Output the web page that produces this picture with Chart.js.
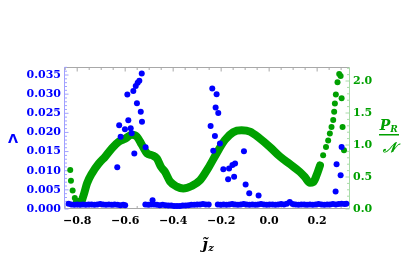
<!DOCTYPE html>
<html>
<head>
<meta charset="utf-8">
<script src="https://cdn.jsdelivr.net/npm/chart.js@4"></script>
<style>
  html, body { margin: 0; padding: 0; background: #fff; }
</style>
</head>
<body>
<canvas id="grafica" width="415" height="275"></canvas>
<script>
// tick labels
const xTicks = [-0.8, -0.6, -0.4, -0.2, 0.0, 0.2];
const lambdaTicks = [0, 0.005, 0.010, 0.015, 0.020, 0.025, 0.030, 0.035];
const prTicks = [0, 0.5, 1.0, 1.5, 2.0];

// Lambda (blue) - baseline near zero
const lambdaBaseX = [
  -0.836, -0.824, -0.812, -0.800, -0.788, -0.776, -0.764, -0.752, -0.740, -0.728, -0.716,
  -0.704, -0.692, -0.680, -0.668, -0.656, -0.644, -0.632, -0.620, -0.608, -0.600,
  -0.516, -0.504, -0.492, -0.480, -0.468, -0.456, -0.444, -0.432, -0.420, -0.408, -0.396,
  -0.384, -0.372, -0.360, -0.348, -0.336, -0.324, -0.312, -0.300, -0.288, -0.276, -0.264, -0.252,
  -0.214, -0.202, -0.190, -0.178, -0.166, -0.154, -0.142, -0.130, -0.118, -0.106, -0.094,
  -0.082, -0.070, -0.058, -0.046, -0.034, -0.022, -0.010, 0.002, 0.014, 0.026, 0.038,
  0.050, 0.062, 0.074, 0.086, 0.098, 0.110, 0.122, 0.134, 0.146, 0.158, 0.170, 0.182,
  0.194, 0.206, 0.218, 0.230, 0.242, 0.254, 0.266, 0.278, 0.290, 0.302, 0.314, 0.322
];
const lambdaBaseY = [
  0.0014, 0.0012, 0.0011, 0.0012, 0.0011, 0.0012, 0.0011, 0.0012, 0.0012, 0.0011, 0.0012,
  0.0013, 0.0012, 0.0011, 0.0012, 0.0011, 0.0012, 0.0011, 0.0010, 0.0011, 0.0010,
  0.0012, 0.0011, 0.0012, 0.0012, 0.0011, 0.0010, 0.0011, 0.0010, 0.0009, 0.0009, 0.0008,
  0.0008, 0.0008, 0.0009, 0.0009, 0.0010, 0.0011, 0.0011, 0.0012, 0.0012, 0.0013, 0.0012, 0.0012,
  0.0012, 0.0011, 0.0012, 0.0011, 0.0012, 0.0013, 0.0012, 0.0011, 0.0012, 0.0013, 0.0012,
  0.0011, 0.0012, 0.0011, 0.0012, 0.0013, 0.0012, 0.0011, 0.0012, 0.0012, 0.0011, 0.0012,
  0.0013, 0.0012, 0.0014, 0.0018, 0.0013, 0.0012, 0.0011, 0.0012, 0.0012, 0.0011, 0.0012,
  0.0011, 0.0012, 0.0013, 0.0012, 0.0011, 0.0012, 0.0012, 0.0013, 0.0012, 0.0013, 0.0014, 0.0013, 0.0014
];
// Lambda (blue) - scattered points away from zero
const lambdaSpikeX = [
  -0.531, -0.541, -0.548, -0.556, -0.566, -0.591, -0.551, -0.535, -0.530, -0.587,
  -0.625, -0.601, -0.577, -0.619, -0.573, -0.515, -0.562, -0.633, -0.486,
  -0.237, -0.219, -0.223, -0.212, -0.244, -0.226, -0.205, -0.233, -0.191, -0.167,
  -0.153, -0.142, -0.171, -0.146, -0.105, -0.098, -0.083, -0.044,
  0.302, 0.281, 0.298, 0.277
];
const lambdaSpikeY = [
  0.0354, 0.0335, 0.0330, 0.0321, 0.0308, 0.0299, 0.0276, 0.0254, 0.0228, 0.0232,
  0.0219, 0.0208, 0.0211, 0.0189, 0.0198, 0.0161, 0.0145, 0.0109, 0.0023,
  0.0315, 0.0300, 0.0265, 0.0251, 0.0217, 0.0191, 0.0171, 0.0152, 0.0104, 0.0106,
  0.0115, 0.0119, 0.0078, 0.0084, 0.0151, 0.0064, 0.0041, 0.0035,
  0.0162, 0.0117, 0.0088, 0.0046
];

// P_R / N (green) - dense part
const prDenseX = [
  -0.801, -0.787, -0.773, -0.759, -0.738, -0.710, -0.683, -0.655, -0.627, -0.600,
  -0.572, -0.551, -0.530, -0.509, -0.488, -0.468, -0.451, -0.434, -0.413, -0.385,
  -0.358, -0.323, -0.288, -0.254, -0.219, -0.184, -0.150, -0.115, -0.080, -0.038,
  0.003, 0.045, 0.087, 0.128, 0.149, 0.170, 0.184, 0.198, 0.212
];
const prDenseY = [
  0.11, 0.09, 0.22, 0.40, 0.56, 0.71, 0.82, 0.95, 1.05, 1.10,
  1.16, 1.13, 1.00, 0.87, 0.84, 0.79, 0.66, 0.58, 0.43, 0.35,
  0.32, 0.36, 0.45, 0.64, 0.87, 1.08, 1.20, 1.23, 1.21, 1.10,
  0.97, 0.82, 0.70, 0.58, 0.50, 0.41, 0.42, 0.53, 0.68
];
// P_R / N (green) - sparse ends
const prSparseX = [
  -0.829, -0.826, -0.819, -0.810,
  0.225, 0.237, 0.246, 0.253, 0.260, 0.267, 0.271, 0.274, 0.278, 0.285, 0.292, 0.298,
  0.302, 0.306, 0.312
];
const prSparseY = [
  0.61, 0.44, 0.29, 0.17,
  0.84, 0.97, 1.07, 1.18, 1.28, 1.39, 1.52, 1.65, 1.79, 1.98, 2.11, 2.08,
  1.73, 1.28, 0.92
];

const azul = '#0000ff';
const verde = '#00a000';

const pares = (xs, ys) => xs.map((x, i) => ({ x: x, y: ys[i] }));

const marco = {
  id: 'marco',
  beforeDatasetsDraw(chart) {
    const { ctx, chartArea: a, scales } = chart;
    const sx = scales.x, sl = scales.yL, sr = scales.yR;
    ctx.save();
    ctx.lineWidth = 1;
    // axis lines
    const linea = (x1, y1, x2, y2, c) => {
      ctx.strokeStyle = c;
      ctx.beginPath(); ctx.moveTo(x1, y1); ctx.lineTo(x2, y2); ctx.stroke();
    };
    const L = Math.round(a.left) + 0.5, R = Math.round(a.right) - 0.5;
    const T = Math.round(a.top) + 0.5, B = Math.round(a.bottom) - 0.5;
    linea(L, T, R, T, '#a8a8a8');
    linea(L, B, R, B, '#a8a8a8');
    linea(L, T, L, B, '#a0a0ff');
    linea(R, T, R, B, '#a8dca8');
    // x ticks, bottom and top
    for (let k = -17; k <= 6; k++) {
      const v = k * 0.05;
      const px = sx.getPixelForValue(v);
      if (px < a.left || px > a.right) continue;
      const len = (k % 4 === 0) ? 4 : 2.5;
      linea(px, B, px, B - len, '#a8a8a8');
      linea(px, T, px, T + len, '#a8a8a8');
    }
    // left ticks
    for (let k = 0; k <= 37; k++) {
      const py = sl.getPixelForValue(k * 0.001);
      const len = (k % 5 === 0) ? 4 : 2.5;
      linea(L, py, L + len, py, '#a0a0ff');
    }
    // right ticks
    for (let k = 0; k <= 22; k++) {
      const py = sr.getPixelForValue(k * 0.1);
      const len = (k % 5 === 0) ? 4 : 2.5;
      linea(R, py, R - len, py, '#a8dca8');
    }
    ctx.restore();
  },
  afterDraw(chart) {
    const ctx = chart.ctx;
    ctx.save();
    ctx.textBaseline = 'alphabetic';
    ctx.textAlign = 'center';
    // left title
    ctx.fillStyle = azul;
    ctx.font = 'bold 13px "DejaVu Sans"';
    ctx.fillText('Λ', 13, 143);
    // right title: P_R / N
    ctx.fillStyle = verde;
    ctx.font = 'bold italic 14px "DejaVu Serif"';
    ctx.fillText('P', 385, 130);
    ctx.font = 'bold italic 9px "DejaVu Serif"';
    ctx.fillText('R', 394, 132);
    ctx.fillRect(379, 134, 20, 1.5);
    ctx.font = 'bold italic 14px "DejaVu Serif"';
    ctx.fillText('𝒩', 389, 152);
    // x title
    ctx.fillStyle = '#000';
    ctx.font = 'bold italic 15px "DejaVu Serif"';
    ctx.fillText('j̃', 205, 249);
    ctx.font = 'bold italic 10px "DejaVu Serif"';
    ctx.fillText('z', 211, 251);
    ctx.restore();
  }
};

const fuente = { family: 'DejaVu Serif', weight: 'bold', size: 11 };

new Chart(document.getElementById('grafica').getContext('2d'), {
  type: 'scatter',
  data: {
    datasets: [
      {
        label: 'Lambda base',
        data: pares(lambdaBaseX, lambdaBaseY),
        yAxisID: 'yL',
        backgroundColor: azul,
        borderWidth: 0,
        pointRadius: 3,
        order: 1
      },
      {
        label: 'Lambda',
        data: pares(lambdaSpikeX, lambdaSpikeY),
        yAxisID: 'yL',
        backgroundColor: azul,
        borderWidth: 0,
        pointRadius: 3,
        order: 1
      },
      {
        label: 'PR curva',
        data: pares(prDenseX, prDenseY),
        yAxisID: 'yR',
        showLine: true,
        borderColor: verde,
        borderWidth: 8,
        borderCapStyle: 'round',
        borderJoinStyle: 'round',
        cubicInterpolationMode: 'monotone',
        pointRadius: 0,
        order: 2
      },
      {
        label: 'PR',
        data: pares(prSparseX, prSparseY),
        yAxisID: 'yR',
        backgroundColor: verde,
        borderWidth: 0,
        pointRadius: 3,
        order: 2
      }
    ]
  },
  options: {
    responsive: false,
    animation: false,
    layout: { padding: { top: 67, left: 0, right: 0, bottom: 0 } },
    plugins: { legend: { display: false }, tooltip: { enabled: false } },
    scales: {
      x: {
        type: 'linear',
        min: -0.855,
        max: 0.337,
        grid: { display: false, drawTicks: false },
        border: { display: false },
        afterBuildTicks: s => { s.ticks = xTicks.map(v => ({ value: v })); },
        afterFit: s => { s.height = 66; },
        ticks: {
          color: '#000',
          font: fuente,
          padding: 6,
          maxRotation: 0,
          callback: v => (v < 0 ? '\u2212' : '') + Math.abs(v).toFixed(1)
        }
      },
      yL: {
        type: 'linear',
        position: 'left',
        min: 0,
        max: 0.03709,
        grid: { display: false, drawTicks: false },
        border: { display: false },
        afterBuildTicks: s => { s.ticks = lambdaTicks.map(v => ({ value: v })); },
        afterFit: s => { s.width = 64; },
        ticks: { color: azul, font: fuente, padding: 3, callback: v => v.toFixed(3) }
      },
      yR: {
        type: 'linear',
        position: 'right',
        min: 0,
        max: 2.219,
        grid: { display: false, drawTicks: false },
        border: { display: false },
        afterBuildTicks: s => { s.ticks = prTicks.map(v => ({ value: v })); },
        afterFit: s => { s.width = 65; },
        ticks: { color: verde, font: fuente, padding: 3, callback: v => v.toFixed(1) }
      }
    }
  },
  plugins: [marco]
});
</script>
</body>
</html>
